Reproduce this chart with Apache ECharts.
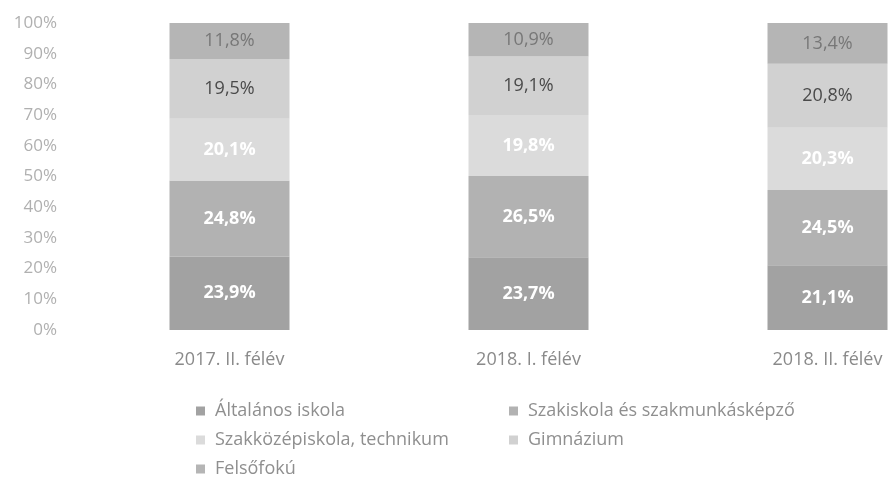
<!DOCTYPE html>
<html>
<head>
<meta charset="utf-8">
<script src="https://cdn.jsdelivr.net/npm/echarts@6/dist/echarts.min.js"></script>
<style>
html,body{margin:0;padding:0;background:#fff;}
#chart{width:889px;height:500px;}
</style>
</head>
<body>
<div id="chart"></div>
<script>
// Periods on the x axis
const categories = ['2017. II. félév', '2018. I. félév', '2018. II. félév'];
// Share of each education level (%), bottom to top of each stack
const altalanos = [23.9, 23.7, 21.1];
const szakiskola = [24.8, 26.5, 24.5];
const szakkozep = [20.1, 19.8, 20.3];
const gimnazium = [19.5, 19.1, 20.8];
const felsofoku = [11.8, 10.9, 13.4];
const seriesNames = ['Általános iskola', 'Szakiskola és szakmunkásképző', 'Szakközépiskola, technikum', 'Gimnázium', 'Felsőfokú'];
const yTicks = [0, 10, 20, 30, 40, 50, 60, 70, 80, 90, 100];

const fills = ['#a2a2a2', '#b2b2b2', '#dbdbdb', '#d1d1d1', '#b5b5b5'];
const labelColors = ['#ffffff', '#ffffff', '#ffffff', '#4a4a4a', '#777777'];
const values = [altalanos, szakiskola, szakkozep, gimnazium, felsofoku];

const fmt = v => v.toFixed(1).replace('.', ',') + '%';

const series = seriesNames.map((name, i) => ({
  name: name,
  type: 'bar',
  stack: 'total',
  barWidth: 120,
  data: values[i],
  itemStyle: { color: fills[i] },
  label: {
    show: true,
    position: 'inside',
    formatter: p => fmt(p.value),
    color: labelColors[i],
    fontFamily: 'Open Sans',
    fontWeight: i < 3 ? 'bold' : 'normal',
    fontSize: 18
  }
}));

// One legend block per entry, laid out in two columns
const legendPos = [
  { left: 191, top: 397 },
  { left: 504, top: 397 },
  { left: 191, top: 426 },
  { left: 504, top: 426 },
  { left: 191, top: 455 }
];
const legends = seriesNames.map((name, i) => ({
  data: [name],
  left: legendPos[i].left,
  top: legendPos[i].top,
  icon: 'rect',
  itemWidth: 9,
  itemHeight: 9,
  itemGap: 0,
  selectedMode: false,
  textStyle: { color: '#8f8f8f', fontSize: 18, fontFamily: 'Open Sans', padding: [0, 0, 0, 5] }
}));

const chart = echarts.init(document.getElementById('chart'));
chart.setOption({
  animation: false,
  backgroundColor: '#ffffff',
  grid: { left: 80, top: 23, width: 897, height: 307, outerBoundsMode: 'none', containLabel: false },
  legend: legends,
  xAxis: {
    type: 'category',
    data: categories,
    axisLine: { show: false },
    axisTick: { show: false },
    axisLabel: { color: '#8a8a8a', fontSize: 18, fontFamily: 'Open Sans', margin: 21 }
  },
  yAxis: {
    type: 'value',
    min: yTicks[0],
    max: yTicks[yTicks.length - 1],
    interval: 10,
    splitLine: { show: false },
    axisLine: { show: false },
    axisTick: { show: false },
    axisLabel: { color: '#b0b0b0', fontSize: 17, fontFamily: 'Open Sans', margin: 23, formatter: '{value}%' }
  },
  series: series
});
</script>
</body>
</html>
